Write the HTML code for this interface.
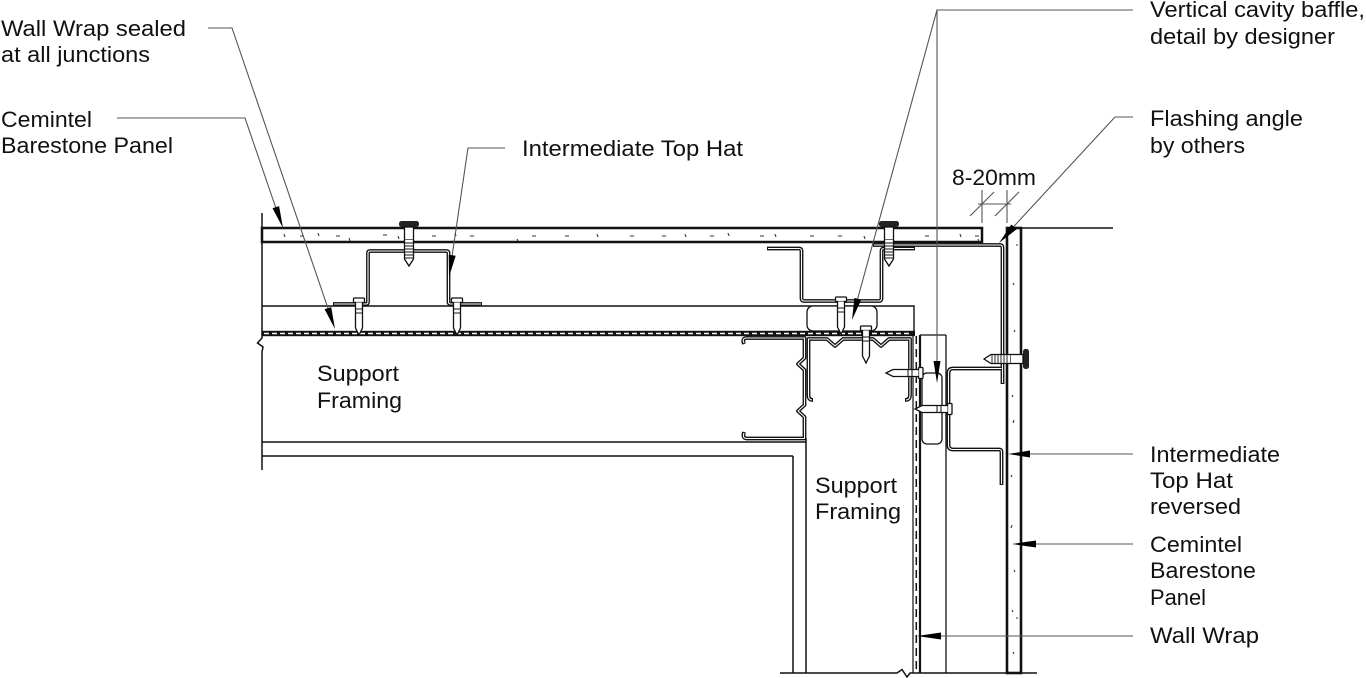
<!DOCTYPE html>
<html><head><meta charset="utf-8"><style>
html,body{margin:0;padding:0;background:#fff;width:1366px;height:678px;overflow:hidden}
svg{display:block}
text{font-family:"Liberation Sans",Arial,sans-serif;font-size:22.5px;fill:#111}
</style></head><body>
<svg width="1366" height="678" viewBox="0 0 1366 678" xmlns="http://www.w3.org/2000/svg">
<defs>
<g id="nailV">
 <rect x="-5.5" y="0" width="11" height="4.5" rx="1" fill="#fff" stroke="#111" stroke-width="1.3"/>
 <path d="M-3.5,4.5 V30 L0,37 L3.5,30 V4.5" fill="#fff" stroke="#111" stroke-width="1.3"/>
 <path d="M-3.5,11 H3.5 M-3.5,15 H3.5" stroke="#111" stroke-width="1"/>
</g>
<g id="screwV">
 <rect x="-10" y="0" width="20" height="6" rx="2.5" fill="#222"/>
 <rect x="-4.5" y="6" width="9" height="13" fill="#fff" stroke="#111" stroke-width="1.3"/>
 <path d="M-4.5,19 V38 L0,45 L4.5,38 V19" fill="#fff" stroke="#111" stroke-width="1.3"/>
 <path d="M-4.5,22 H4.5 M-4.5,25 H4.5 M-4.5,28 H4.5 M-4.5,31 H4.5 M-4.5,34 H4.5 M-4.5,37 H4.5" stroke="#111" stroke-width="0.9"/>
</g>
</defs>

<!-- ===== Labels ===== -->
<text x="1" y="36" textLength="185" lengthAdjust="spacingAndGlyphs">Wall Wrap sealed</text>
<text x="1" y="62" textLength="149" lengthAdjust="spacingAndGlyphs">at all junctions</text>
<text x="1" y="127" textLength="91" lengthAdjust="spacingAndGlyphs">Cemintel</text>
<text x="1" y="153" textLength="172" lengthAdjust="spacingAndGlyphs">Barestone Panel</text>
<text x="522" y="156" textLength="221" lengthAdjust="spacingAndGlyphs">Intermediate Top Hat</text>
<text x="1150" y="17" textLength="215" lengthAdjust="spacingAndGlyphs">Vertical cavity baffle,</text>
<text x="1150" y="44" textLength="185" lengthAdjust="spacingAndGlyphs">detail by designer</text>
<text x="1150" y="126" textLength="153" lengthAdjust="spacingAndGlyphs">Flashing angle</text>
<text x="1150" y="153" textLength="95" lengthAdjust="spacingAndGlyphs">by others</text>
<text x="952" y="185" textLength="84" lengthAdjust="spacingAndGlyphs">8-20mm</text>
<text x="1150" y="462" textLength="130" lengthAdjust="spacingAndGlyphs">Intermediate</text>
<text x="1150" y="488" textLength="83" lengthAdjust="spacingAndGlyphs">Top Hat</text>
<text x="1150" y="514" textLength="91" lengthAdjust="spacingAndGlyphs">reversed</text>
<text x="1150" y="552" textLength="92" lengthAdjust="spacingAndGlyphs">Cemintel</text>
<text x="1150" y="578" textLength="106" lengthAdjust="spacingAndGlyphs">Barestone</text>
<text x="1150" y="605" textLength="56" lengthAdjust="spacingAndGlyphs">Panel</text>
<text x="1150" y="643" textLength="109" lengthAdjust="spacingAndGlyphs">Wall Wrap</text>
<text x="317" y="381" textLength="82" lengthAdjust="spacingAndGlyphs">Support</text>
<text x="317" y="408" textLength="85" lengthAdjust="spacingAndGlyphs">Framing</text>
<text x="815" y="493" textLength="82" lengthAdjust="spacingAndGlyphs">Support</text>
<text x="815" y="519" textLength="86" lengthAdjust="spacingAndGlyphs">Framing</text>

<!-- ===== Horizontal wall ===== -->
<g fill="none" stroke="#111">
 <path d="M262,213 V338 L257.5,343 L263,347 L262,352 V470" stroke-width="1.5"/>
 <rect x="262" y="228" width="720" height="14" stroke-width="2.5" fill="#fff"/>
 <path d="M262,306 H914 V331" stroke-width="1.4"/>
 <path d="M262,442 H806 M262,456 H793 M793,456 V673 M806,438 V673" stroke-width="1.5"/>
 <path d="M913,336 V673" stroke-width="1.2"/>
 <path d="M920,335 V673" stroke-width="2.2"/>
 <path d="M946,335 V673 M920,335 H946" stroke-width="1.3"/>
 <rect x="922" y="373" width="20" height="71" rx="5" stroke-width="1.3"/>
 <path d="M780,673 H897 L902,669.5 L907,677 L910,673 H1037" stroke-width="1.5"/>
 <rect x="1007" y="228" width="14" height="445" stroke-width="2.6" fill="#fff"/>
 <path d="M1021,228 H1113" stroke-width="1.4"/>
</g>

<!-- wall wrap horizontal -->
<rect x="262" y="330.8" width="653" height="5.4" fill="#111"/>
<path d="M264,333.5 H912" stroke="#fff" stroke-width="1.5" stroke-dasharray="5 3" fill="none"/>
<path d="M916.3,336 V673" stroke="#111" stroke-width="1.5" stroke-dasharray="8 5" fill="none"/>

<!-- speckles -->
<g stroke="#333" stroke-width="1.1" fill="none">
 <path d="M284,234 l1,3 M300,236 h4 M318,233 l1,3 M336,236 h4 M349,238 l1,3 M383,235 h4 M398,236 l1,3 M432,236 h4 M455,233 l1,3 M470,236 h4 M517,239 l1,2 M532,236 h4 M565,236 h4 M597,234 l1,3 M630,236 h4 M662,236 h4 M685,234 l1,3 M710,236 h4 M728,233 l1,3 M760,236 h4 M775,234 l1,3 M810,236 h4 M838,236 h4 M864,236 l1,3 M925,236 h4 M960,234 l1,3 M975,236 h4 M978,239 l1,3"/>
 <path d="M1013,283 l1,2 M1015,330 l-1,2 M1012,395 l1,2 M1014,420 l-1,3 M1011,475 l1,2 M1012,525 l-1,3 M1014,570 l1,2 M1012,610 l1,2 M1013,652 l1,2 M1016,245 h2 M1016,618 h2"/>
</g>

<!-- ===== Sheet metal (double-line) ===== -->
<g fill="none" stroke-linejoin="round" stroke-linecap="butt">
 <g stroke="#111" stroke-width="3.8">
  <path d="M333,304 H366 Q368,304 368,302 V253 Q368,251 370,251 H446 Q448.5,251 448.5,253 V302 Q448.5,304 451,304 H482"/>
  <path d="M767,248.5 H799 Q801.5,248.5 801.5,251 V298 Q801.5,301 804,301 H879 Q881.5,301 881.5,298 V251 Q881.5,248.5 884,248.5 H915"/>
  <path d="M873,245 H1000 Q1002.5,245 1002.5,248 V384"/>
  <path d="M1002.5,368.5 H953 Q948.5,368.5 948.5,373 V445 Q948.5,449.5 953,449.5 H999 Q1001.5,449.5 1001.5,452 V485"/>
  <path d="M744,344 Q741.5,338 747,338 H804.5 V358 L798,364 L804.5,370 V405 L798,411 L804.5,417 V438.5 H747 Q742,438.5 744,432"/>
  <path d="M813,400 Q808.5,400 808.5,395 V339 H827 L835,346 L843,339 H873 L881,346 L889,339 H910 V395 Q910,400 905,400"/>
 </g>
 <g stroke="#fff" stroke-width="1.1">
  <path d="M334,304 H366 Q368,304 368,302 V253 Q368,251 370,251 H446 Q448.5,251 448.5,253 V302 Q448.5,304 451,304 H481"/>
  <path d="M768,248.5 H799 Q801.5,248.5 801.5,251 V298 Q801.5,301 804,301 H879 Q881.5,301 881.5,298 V251 Q881.5,248.5 884,248.5 H914"/>
  <path d="M874,245 H1000 Q1002.5,245 1002.5,248 V383"/>
  <path d="M1001.5,368.5 H953 Q948.5,368.5 948.5,373 V445 Q948.5,449.5 953,449.5 H999 Q1001.5,449.5 1001.5,452 V484"/>
  <path d="M744,343 Q741.5,338 747,338 H804.5 V358 L798,364 L804.5,370 V405 L798,411 L804.5,417 V438.5 H747 Q742,438.5 744,433"/>
  <path d="M812,400 Q808.5,400 808.5,395 V339 H827 L835,346 L843,339 H873 L881,346 L889,339 H910 V395 Q910,400 906,400"/>
 </g>
</g>

<rect x="807" y="306" width="70" height="25" rx="6" fill="#fff" stroke="#111" stroke-width="1.3"/>

<!-- ===== Fixings ===== -->
<use href="#screwV" transform="translate(409,221)"/>
<use href="#screwV" transform="translate(889,221)"/>
<use href="#nailV" transform="translate(359,298)"/>
<use href="#nailV" transform="translate(457,298)"/>
<use href="#nailV" transform="translate(841,297)"/>
<use href="#nailV" transform="translate(866,326)"/>
<use href="#nailV" transform="translate(923,373) rotate(90)"/>
<use href="#nailV" transform="translate(952,409) rotate(90)"/>
<use href="#screwV" transform="translate(1029,359) rotate(90)"/>

<!-- ===== Leaders & dimension ===== -->
<g fill="none" stroke="#555" stroke-width="1.1">
 <path d="M208,28 H232 L332,320"/>
 <path d="M117,118 H245 L280,220"/>
 <path d="M505,148 H468 L450,270"/>
 <path d="M1133,10 H937 V370"/>
 <path d="M937,10 L854,312"/>
 <path d="M1133,117 H1115 L1005,236"/>
 <path d="M1133,454 H1015"/>
 <path d="M1133,544 H1020"/>
 <path d="M1133,636 H925"/>
 <path d="M982,190 V223 M1007,190 V223 M978,204 H1011 M970,216 L994,192 M995,216 L1019,192"/>
</g>
<g fill="#000">
 <polygon points="335,329 324.6,309.3 331.2,307.1"/>
 <polygon points="283,228 272.5,208.3 279.1,206.1"/>
 <polygon points="449,277 448.7,254.7 455.7,255.7"/>
 <polygon points="852,320 854.4,297.9 861.2,299.7"/>
 <polygon points="937,383 933.5,361 940.5,361"/>
 <polygon points="999,243 1011.4,224.5 1016.6,229.3"/>
 <polygon points="1008,454 1030,450.5 1030,457.5"/>
 <polygon points="1012,544 1036,540.5 1036,547.5"/>
 <polygon points="917,636 941,632.5 941,639.5"/>
</g>
</svg>
</body></html>
